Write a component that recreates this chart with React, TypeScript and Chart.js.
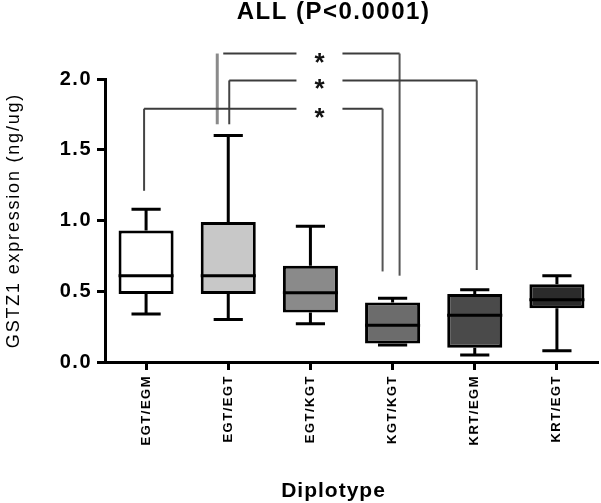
import React, { useEffect, useRef } from "react";
import { Chart, registerables } from "chart.js";

Chart.register(...registerables);

// ---- data ----
const categories = ["EGT/EGM", "EGT/EGT", "EGT/KGT", "KGT/KGT", "KRT/EGM", "KRT/EGT"];
const whiskerLow = [0.34, 0.3, 0.27, 0.12, 0.05, 0.08];
const q1 = [0.48, 0.48, 0.35, 0.13, 0.1, 0.38];
const medians = [0.61, 0.61, 0.49, 0.26, 0.33, 0.44];
const q3 = [0.93, 0.99, 0.68, 0.42, 0.48, 0.55];
const whiskerHigh = [1.08, 1.6, 0.96, 0.45, 0.51, 0.61];
const boxColors = ["#ffffff", "#c8c8c8", "#8a8a8a", "#6c6c6c", "#4a4a4a", "#2b2b2b"];
const yTicks = [0, 0.5, 1.0, 1.5, 2.0];

const titleText = "ALL (P<0.0001)";
const xTitle = "Diplotype";
const yTitle = "GSTZ1 expression (ng/ug)";

// significance brackets (category indices and levels in data units)
const bracketFrom = [1, 1, 0];
const bracketTo = [3, 4, 3];
const bracketLevel = [2.18, 1.99, 1.79];
const bracketLeftEnd = [1.68, 1.68, 1.21];
const bracketRightEnd = [0.61, 0.65, 0.64];
const bracketLabel = ["*", "*", "*"];
const starCategory = 2.11;

// style-only pixel nudges for bracket ends
const bracketDx = [
  [-11, 7],
  [1, 2],
  [-2, -10],
];

const FONT = "Arial, 'Liberation Sans', sans-serif";

const boxPlugin = {
  id: "boxExtras",
  beforeDraw(chart: any) {
    const ctx = chart.ctx;
    ctx.save();
    ctx.fillStyle = "#ffffff";
    ctx.fillRect(0, 0, chart.width, chart.height);
    ctx.restore();
    (ctx as any).letterSpacing = "1.5px";
  },
  beforeDatasetsDraw(chart: any) {
    const ctx = chart.ctx;
    const y = chart.scales.y;
    const meta = chart.getDatasetMeta(0);
    ctx.save();
    ctx.strokeStyle = "#000";
    ctx.lineWidth = 3;
    ctx.lineCap = "butt";
    meta.data.forEach((bar: any, i: number) => {
      const x = bar.x;
      const half = bar.width * 0.265;
      const yHi = y.getPixelForValue(whiskerHigh[i]);
      const yLo = y.getPixelForValue(whiskerLow[i]);
      const yQ1 = y.getPixelForValue(q1[i]);
      const yQ3 = y.getPixelForValue(q3[i]);
      ctx.beginPath();
      ctx.moveTo(x, yQ3);
      ctx.lineTo(x, yHi);
      ctx.moveTo(x - half, yHi);
      ctx.lineTo(x + half, yHi);
      ctx.moveTo(x, yQ1);
      ctx.lineTo(x, yLo);
      ctx.moveTo(x - half, yLo);
      ctx.lineTo(x + half, yLo);
      ctx.stroke();
    });
    ctx.restore();
  },
  afterDatasetsDraw(chart: any) {
    const ctx = chart.ctx;
    const y = chart.scales.y;
    const meta = chart.getDatasetMeta(0);
    ctx.save();
    ctx.strokeStyle = "#000";
    ctx.lineWidth = 3;
    meta.data.forEach((bar: any, i: number) => {
      const ym = y.getPixelForValue(medians[i]);
      ctx.beginPath();
      ctx.moveTo(bar.x - bar.width / 2, ym);
      ctx.lineTo(bar.x + bar.width / 2, ym);
      ctx.stroke();
    });
    ctx.restore();
  },
  afterDraw(chart: any) {
    const ctx = chart.ctx;
    const x = chart.scales.x;
    const y = chart.scales.y;
    const area = chart.chartArea;
    (ctx as any).letterSpacing = "0px";

    // brackets
    const starX = x.getPixelForValue(starCategory);
    const gapHalf = 23;
    ctx.save();
    ctx.lineCap = "butt";
    bracketFrom.forEach((from, k) => {
      const x1 = x.getPixelForValue(from) + bracketDx[k][0];
      const x2 = x.getPixelForValue(bracketTo[k]) + bracketDx[k][1];
      const yl = y.getPixelForValue(bracketLevel[k]);
      const yle = y.getPixelForValue(bracketLeftEnd[k]);
      const yre = y.getPixelForValue(bracketRightEnd[k]);
      ctx.strokeStyle = k === 0 ? "#8a8a8a" : "#444";
      ctx.lineWidth = k === 0 ? 3 : 2;
      ctx.beginPath();
      ctx.moveTo(x1, yle);
      ctx.lineTo(x1, yl);
      ctx.stroke();
      ctx.strokeStyle = "#3c3c3c";
      ctx.lineWidth = 2;
      ctx.beginPath();
      ctx.moveTo(x1 + (k === 0 ? 6 : 0), yl);
      ctx.lineTo(starX - gapHalf, yl);
      ctx.moveTo(starX + gapHalf, yl);
      ctx.lineTo(x2, yl);
      ctx.stroke();
      ctx.strokeStyle = "#555";
      ctx.beginPath();
      ctx.moveTo(x2, yl);
      ctx.lineTo(x2, yre);
      ctx.stroke();
      ctx.fillStyle = "#111";
      ctx.font = "bold 26px " + FONT;
      ctx.textAlign = "center";
      ctx.textBaseline = "alphabetic";
      ctx.fillText(bracketLabel[k], starX, yl + 3 + 14);
    });
    ctx.restore();

    // titles
    const cx = (area.left + area.right) / 2 - 18;
    ctx.save();
    ctx.fillStyle = "#000";
    ctx.textAlign = "center";
    ctx.textBaseline = "middle";
    (ctx as any).letterSpacing = "1.5px";
    ctx.font = "bold 24px " + FONT;
    ctx.fillText(titleText, cx, 12);
    (ctx as any).letterSpacing = "1px";
    ctx.font = "bold 21px " + FONT;
    ctx.fillText(xTitle, cx, 491);
    ctx.restore();

    ctx.save();
    ctx.fillStyle = "#000";
    ctx.textAlign = "center";
    ctx.textBaseline = "middle";
    (ctx as any).letterSpacing = "1.8px";
    ctx.font = "18px " + FONT;
    ctx.translate(14, (area.top + area.bottom) / 2);
    ctx.rotate(-Math.PI / 2);
    ctx.fillText(yTitle, 0, 0);
    ctx.restore();
    (ctx as any).letterSpacing = "0px";
  },
};

export default function App() {
  const ref = useRef<HTMLCanvasElement | null>(null);

  useEffect(() => {
    if (!ref.current) return;
    const chart = new Chart(ref.current, {
      type: "bar",
      data: {
        labels: categories,
        datasets: [
          {
            data: categories.map((_, i) => [q1[i], q3[i]]) as any,
            backgroundColor: boxColors,
            borderColor: "#000",
            borderWidth: 3,
            borderSkipped: false,
            barPercentage: 0.67,
            categoryPercentage: 1,
          },
        ],
      },
      options: {
        animation: false,
        responsive: false,
        devicePixelRatio: 1,
        layout: { padding: { top: 79, right: 3, left: 0, bottom: 0 } },
        plugins: {
          legend: { display: false },
          title: { display: false },
          tooltip: { enabled: false },
        },
        scales: {
          x: {
            type: "category",
            offset: true,
            afterFit: (s: any) => {
              s.height = 141;
            },
            grid: {
              offset: false,
              drawOnChartArea: false,
              drawTicks: true,
              tickLength: 8,
              tickWidth: 3,
              tickColor: "#000",
            },
            border: { display: true, color: "#000", width: 3 },
            ticks: {
              minRotation: 90,
              maxRotation: 90,
              autoSkip: false,
              padding: 5,
              color: "#000",
              font: { family: FONT, size: 13, weight: "bold" },
            },
          },
          y: {
            type: "linear",
            min: 0,
            max: 2,
            afterFit: (s: any) => {
              s.width = 105;
            },
            afterBuildTicks: (s: any) => {
              s.ticks = yTicks.map((v) => ({ value: v }));
            },
            grid: {
              drawOnChartArea: false,
              drawTicks: true,
              tickLength: 8,
              tickWidth: 3,
              tickColor: "#000",
            },
            border: { display: true, color: "#000", width: 3 },
            ticks: {
              padding: 5,
              color: "#000",
              callback: (v: any) => Number(v).toFixed(1),
              font: { family: FONT, size: 20, weight: "bold" },
            },
          },
        },
      },
      plugins: [boxPlugin],
    });
    return () => chart.destroy();
  }, []);

  return (
    <div style={{ position: "fixed", left: 0, top: 0, width: 601, height: 503, background: "#fff" }}>
      <canvas ref={ref} width={601} height={503} style={{ display: "block", width: 601, height: 503 }} />
    </div>
  );
}
